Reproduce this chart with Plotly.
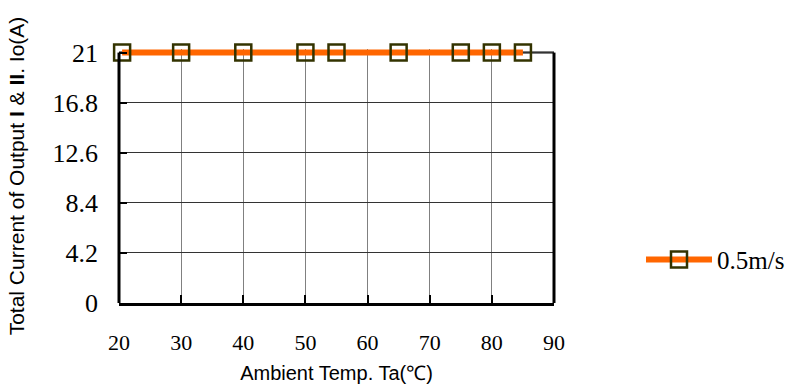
import plotly.graph_objects as go

temps = [20.5, 30, 40, 50, 55, 65, 75, 80, 85]
current = [21, 21, 21, 21, 21, 21, 21, 21, 21]
series_name = "0.5m/s"
x_ticks = [20, 30, 40, 50, 60, 70, 80, 90]
y_ticks = [0, 4.2, 8.4, 12.6, 16.8]
y_ticklabels = ["0", "4.2", "8.4", "12.6", "16.8"]
y_top = 21

serif = "Liberation Serif"
sans = "Liberation Sans"

fig = go.Figure()
fig.add_trace(go.Scatter(
    x=temps, y=current, name=series_name, mode="lines+markers",
    line=dict(color="#FF6600", width=6),
    marker=dict(symbol="square-open", size=16, color="#333300", line=dict(width=2.5, color="#333300")),
    cliponaxis=False,
))

# plot area: 21 at y=53, 0 at y=303 -> extend range slightly so the line at 21 is not clipped
px_per_unit = 250 / 21
extra = 0.3
top_margin = 53 - extra * px_per_unit

fig.update_layout(
    width=799, height=392,
    margin=dict(l=119, r=245, t=top_margin, b=89, autoexpand=False),
    paper_bgcolor="white", plot_bgcolor="white",
    showlegend=True,
    legend=dict(x=1.2, y=0.17, xanchor="left", yanchor="middle",
                font=dict(family=serif, size=25, color="black"),
                itemwidth=66, bgcolor="rgba(0,0,0,0)"),
    xaxis=dict(range=[20, 90], tickvals=x_ticks, showgrid=True, gridcolor="#808080", gridwidth=1,
               showline=True, linecolor="black", linewidth=3, ticks="inside", ticklen=8,
               tickwidth=2, tickcolor="black", zeroline=False, automargin=False,
               tickfont=dict(family=serif, size=22, color="black"), ticklabelstandoff=18,
               title=dict(text="Ambient Temp. Ta(℃)", font=dict(family=sans, size=20, color="black"), standoff=12)),
    yaxis=dict(range=[0, y_top + extra], tickvals=y_ticks + [y_top], ticktext=y_ticklabels + [str(y_top)],
               showgrid=True, gridcolor="#333333", gridwidth=1, showline=False, automargin=False,
               ticks="inside", ticklen=8, tickwidth=2, tickcolor="black", zeroline=False,
               tickfont=dict(family=serif, size=26, color="black"), ticklabelstandoff=20,
               title=dict(text="Total Current of Output <b>I</b> &amp; <b>II</b>. Io(A)",
                          font=dict(family=sans, size=21, color="black"), standoff=22)),
    shapes=[
        dict(type="line", xref="x domain", yref="y", x0=0, x1=0, y0=0, y1=y_top,
             line=dict(color="black", width=3)),
        dict(type="line", xref="x domain", yref="y", x0=1, x1=1, y0=0, y1=y_top,
             line=dict(color="black", width=3)),
        dict(type="line", xref="x domain", yref="y", x0=0, x1=1, y0=y_top, y1=y_top,
             line=dict(color="black", width=2), layer="below"),
    ],
)

fig.write_html("out.html")
